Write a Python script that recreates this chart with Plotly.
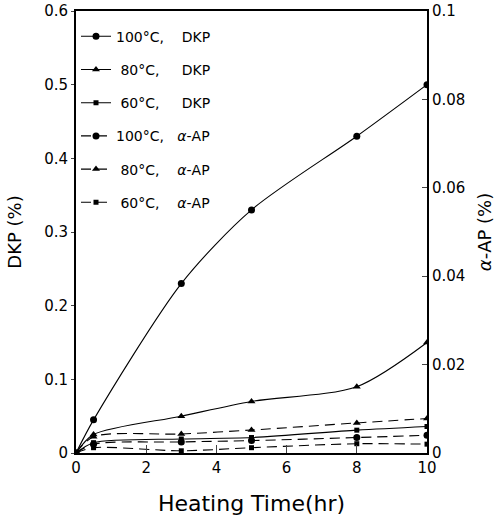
import plotly.graph_objects as go

hours = [0, 0.5, 3, 5, 8, 10]

dkp_100 = [0, 0.045, 0.23, 0.33, 0.43, 0.50]
dkp_80 = [0, 0.025, 0.05, 0.07, 0.09, 0.15]
dkp_60 = [0, 0.014, 0.019, 0.021, 0.031, 0.036]

ap_100 = [0, 0.0020, 0.0025, 0.0028, 0.0035, 0.0040]
ap_80 = [0, 0.0037, 0.0043, 0.0052, 0.0068, 0.0078]
ap_60 = [0, 0.0012, 0.0005, 0.0012, 0.0021, 0.0020]

NB = "\u00a0"
names = [
    f"100°C,{NB*4}DKP",
    f"{NB}80°C,{NB*5}DKP",
    f"{NB}60°C,{NB*5}DKP",
    f"100°C,{NB*3}<i>α</i>-AP",
    f"{NB}80°C,{NB*4}<i>α</i>-AP",
    f"{NB}60°C,{NB*4}<i>α</i>-AP",
]

series = [
    (dkp_100, "y", "solid", "circle", 7),
    (dkp_80, "y", "solid", "triangle-up", 7),
    (dkp_60, "y", "solid", "square", 5),
    (ap_100, "y2", "dash", "circle", 7),
    (ap_80, "y2", "dash", "triangle-up", 7),
    (ap_60, "y2", "dash", "square", 5),
]

fig = go.Figure()
for i, ((vals, yax, dash, sym, ms), name) in enumerate(zip(series, names)):
    fig.add_trace(go.Scatter(
        x=hours, y=vals, yaxis=yax, name=name, legendgroup=f"g{i}",
        mode="lines+markers",
        line=dict(color="black", width=1.1, dash="10px,6px" if dash == "dash" else "solid",
                  shape="spline", smoothing=0.8),
        marker=dict(symbol=sym, size=ms, color="black"),
    ))

font_main = "DejaVu Sans, Verdana, sans-serif"
fig.update_layout(
    width=503, height=519,
    margin=dict(l=76, r=76, t=11, b=66),
    paper_bgcolor="white", plot_bgcolor="white",
    font=dict(family=font_main, color="black", size=15),
    showlegend=True,
    legend=dict(x=0.0, y=0.978, xanchor="left", yanchor="top", bgcolor="rgba(0,0,0,0)",
                font=dict(size=14), tracegroupgap=12, itemwidth=30),
    xaxis=dict(range=[0, 10], tickvals=[0, 2, 4, 6, 8, 10], ticks="inside", ticklen=8,
               showline=True, linecolor="black", linewidth=2, mirror=True, showgrid=False, zeroline=False,
               automargin=False,
               title=dict(text="Heating Time(hr)", font=dict(size=22), standoff=20),
               tickfont=dict(size=15)),
    yaxis=dict(range=[0, 0.6], tickvals=[0, 0.1, 0.2, 0.3, 0.4, 0.5, 0.6],
               ticktext=["0", "0.1", "0.2", "0.3", "0.4", "0.5", "0.6"],
               ticks="outside", ticklen=3, showline=True, linecolor="black", linewidth=2,
               showgrid=False, zeroline=False, automargin=False,
               title=dict(text="DKP (%)", font=dict(size=18), standoff=18), tickfont=dict(size=15)),
    yaxis2=dict(range=[0, 0.1], tickvals=[0, 0.02, 0.04, 0.06, 0.08, 0.1],
                ticktext=["0", "0.02", "0.04", "0.06", "0.08", "0.1"],
                overlaying="y", side="right", ticks="inside", ticklen=5,
                showline=True, linecolor="black", linewidth=2, showgrid=False, zeroline=False,
                automargin=False,
                title=dict(text="<i>α</i>-AP (%)", font=dict(size=18), standoff=14), tickfont=dict(size=15)),
)

fig.write_html("out.html", config={"displayModeBar": False},
               post_script="document.body.style.margin='0';")
